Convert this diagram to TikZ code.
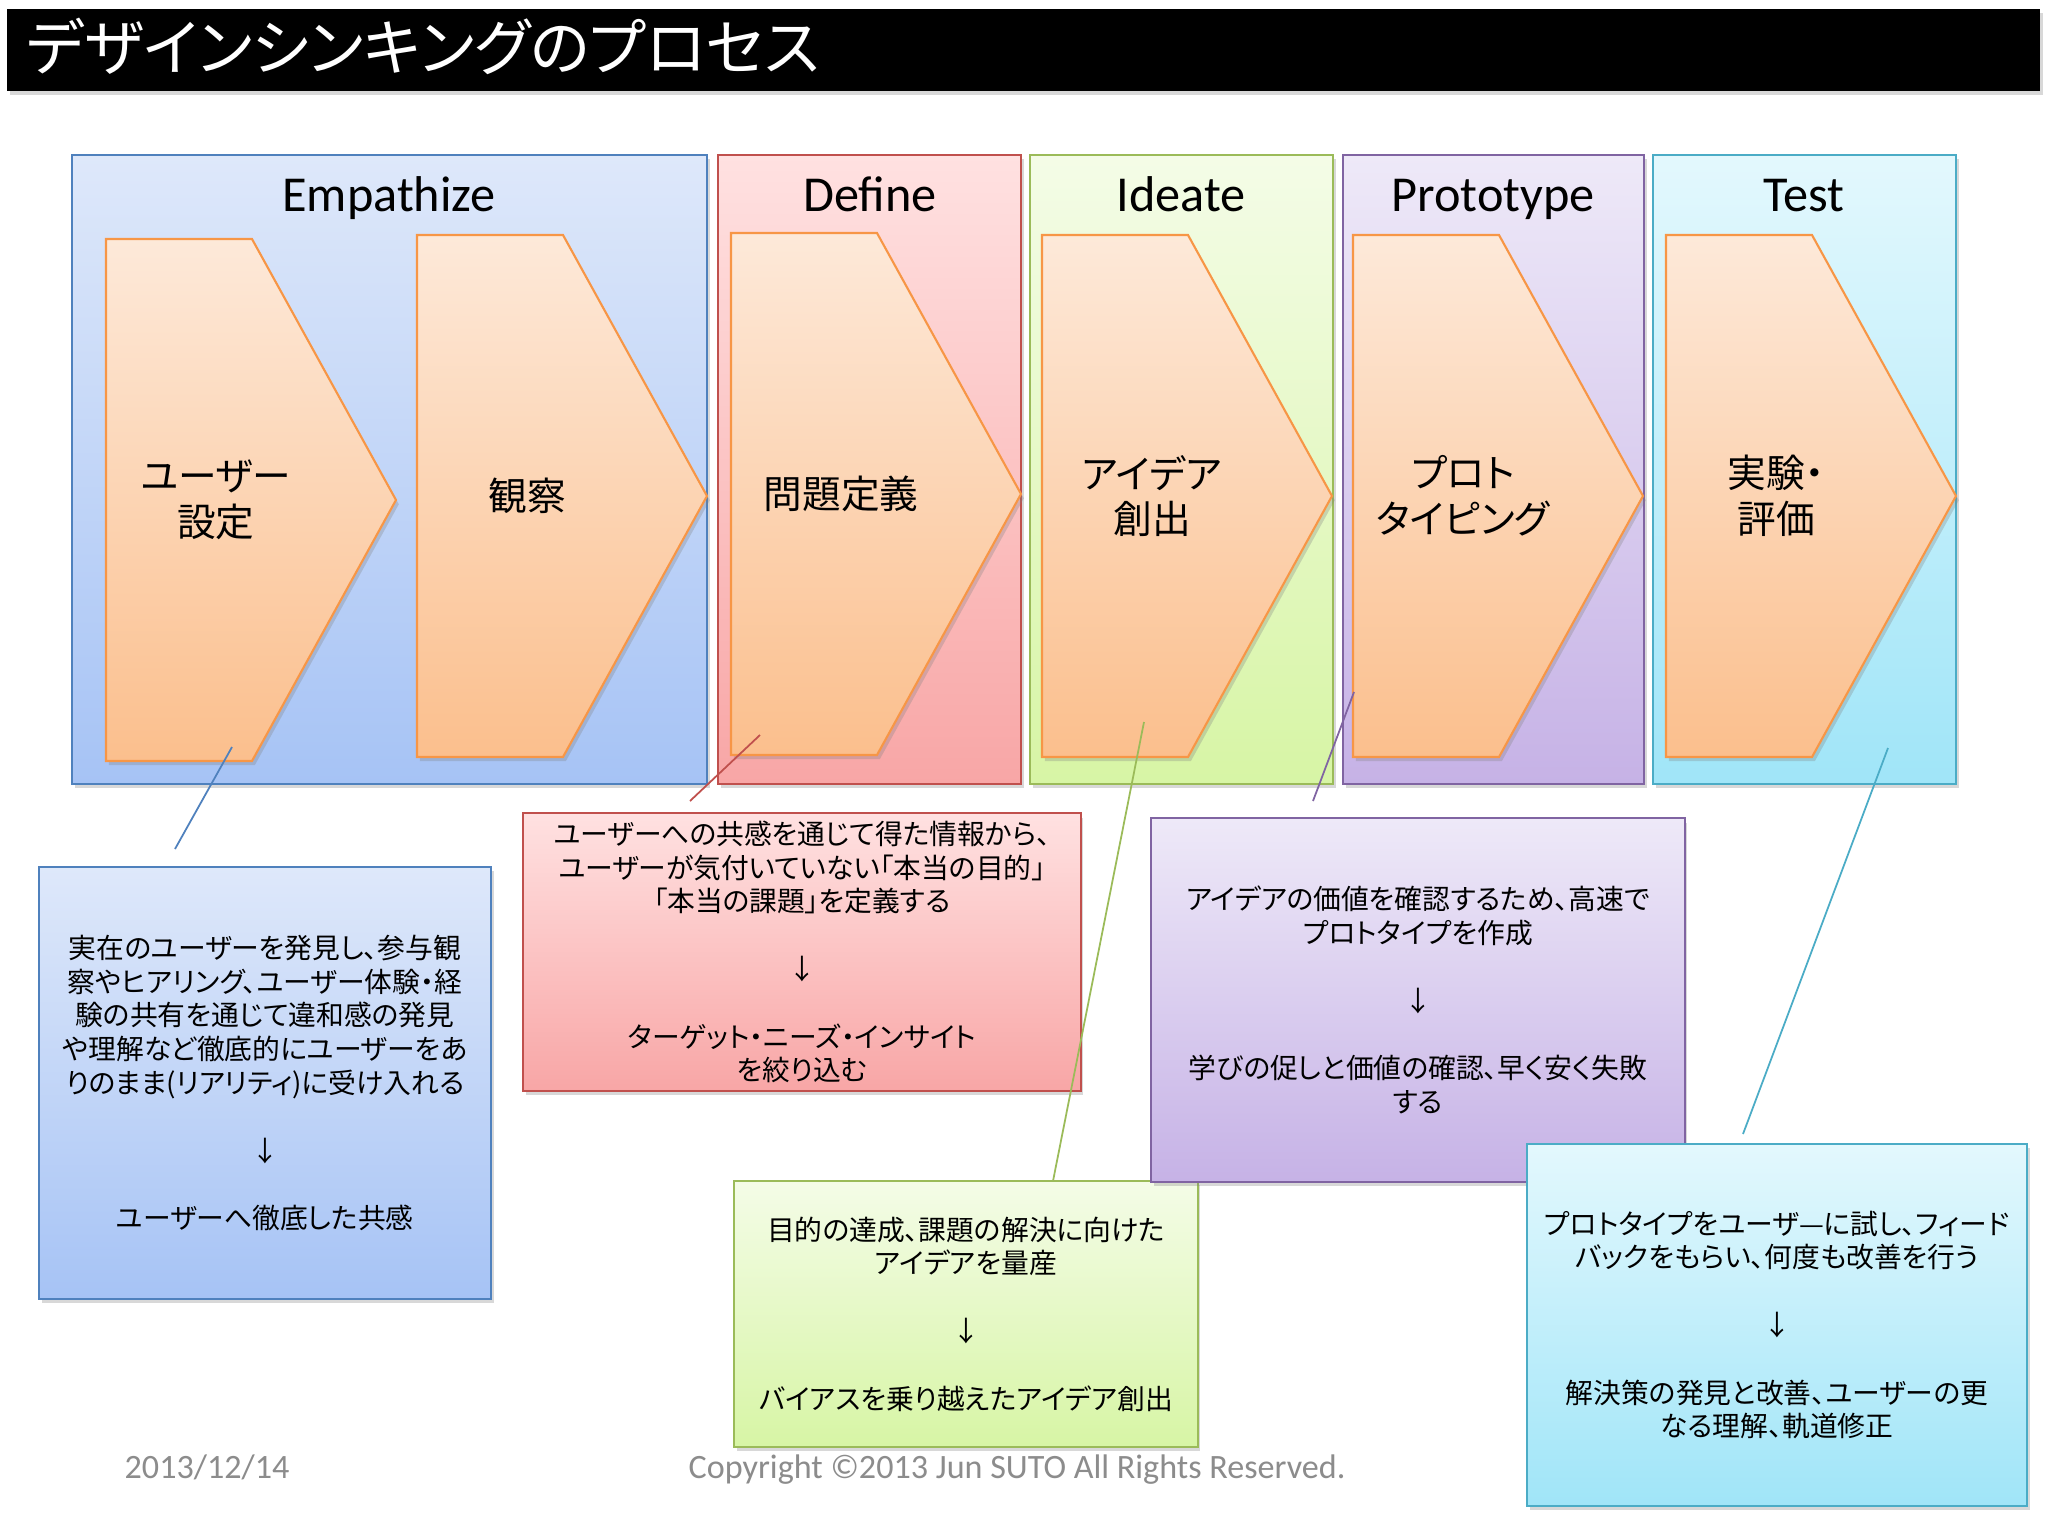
\documentclass[tikz,border=0pt]{standalone}
\usepackage{fontspec}
\setmainfont{Carlito}
\newfontfamily\jp[RawFeature=+palt]{Noto Sans CJK JP}
\usetikzlibrary{shadows}

\definecolor{empTop}{HTML}{DEE8FA}
\definecolor{empBot}{HTML}{A6C3F5}
\definecolor{empLine}{HTML}{4F81BD}
\definecolor{defTop}{HTML}{FFE1E1}
\definecolor{defBot}{HTML}{F8A6A6}
\definecolor{defLine}{HTML}{C0504D}
\definecolor{ideTop}{HTML}{F4FCE7}
\definecolor{ideBot}{HTML}{D7F5A5}
\definecolor{ideLine}{HTML}{9BBB59}
\definecolor{proTop}{HTML}{EEE9F8}
\definecolor{proBot}{HTML}{C6B2E6}
\definecolor{proLine}{HTML}{8064A2}
\definecolor{tstTop}{HTML}{E3F8FD}
\definecolor{tstBot}{HTML}{A0E5F8}
\definecolor{tstLine}{HTML}{4BACC6}
\definecolor{chevTop}{HTML}{FDE9D9}
\definecolor{chevBot}{HTML}{FBBF8D}
\definecolor{chevLine}{HTML}{F79646}
\definecolor{footGray}{HTML}{8C8C8C}

\begin{document}
\begin{tikzpicture}[x=0.01cm, y=-0.01cm,
    lowshadow/.style={drop shadow={shadow xshift=0.8pt, shadow yshift=-1.2pt, opacity=0.3}},
    phase/.style={draw=#1Line, top color=#1Top, bottom color=#1Bot, line width=0.6pt, lowshadow},
    head/.style={anchor=base, font=\fontsize{14.3}{17}\selectfont},
    chev/.style={draw=chevLine, top color=chevTop, bottom color=chevBot, line width=0.6pt, lowshadow},
    clabel/.style={align=center, font=\jp\fontsize{11}{13}\selectfont},
    note/.style={phase=#1, align=center, inner sep=0pt, font=\jp\fontsize{7.9}{9.6}\selectfont},
    link/.style={draw=#1Line, line width=0.5pt},
    foot/.style={anchor=base west, inner sep=0pt, text=footGray, font=\fontsize{9.7}{12}\selectfont}]
    \useasboundingbox (0,0) rectangle (2048,1536);
    \fill[white] (0,0) rectangle (2048,1536);

    % title bar
    \fill[black, lowshadow] (7,9) rectangle (2040,91);
    \node[anchor=west, inner sep=0pt, text=white, font=\jp\fontsize{17.5}{20}\selectfont] (title) at (26,46) {デザインシンキングのプロセス};

    % phases
    \draw[phase=emp] (72,155) rectangle (707,784);
    \draw[phase=def] (718,155) rectangle (1021,784);
    \draw[phase=ide] (1030,155) rectangle (1333,784);
    \draw[phase=pro] (1343,155) rectangle (1644,784);
    \draw[phase=tst] (1653,155) rectangle (1956,784);
    \foreach \cx/\hd in {389/Empathize, 870/Define, 1181/Ideate, 1493/Prototype, 1804/Test}
        \node[head] (h\hd) at (\cx,211) {\hd};

    % chevrons
    \foreach \lx/\ty/\nm/\txt in {106/239/user/{ユーザー\\設定}, 417/235/obs/観察, 731/233/prob/問題定義,
        1042/235/idea/{アイデア\\創出}, 1353/235/proto/{プロト\\タイピング}, 1666/235/test/{実験・\\評価}} {
        \draw[chev] (\lx,\ty) -- (\lx+146,\ty) -- (\lx+290,\ty+261) -- (\lx+146,\ty+522) -- (\lx,\ty+522) -- cycle;
        \node[clabel] (\nm) at (\lx+110,\ty+261) {\txt};
    }

    % notes
    \node[note=emp, minimum width=4.52cm, minimum height=4.32cm] (empNote) at (265,1083)
        {実在のユーザーを発見し、参与観\\察やヒアリング、ユーザー体験・経\\験の共有を通じて違和感の発見\\や理解など徹底的にユーザーをあ\\りのまま(リアリティ)に受け入れる\\[9.6pt]↓\\[9.6pt]ユーザーへ徹底した共感};
    \node[note=def, minimum width=5.57cm, minimum height=2.77cm] (defNote) at (802,952)
        {ユーザーへの共感を通じて得た情報から、\\ユーザーが気付いていない「本当の目的」\\「本当の課題」を定義する\\[9.6pt]↓\\[9.6pt]ターゲット・ニーズ・インサイト\\を絞り込む};
    \node[note=ide, minimum width=4.63cm, minimum height=2.66cm] (ideNote) at (966,1314)
        {目的の達成、課題の解決に向けた\\アイデアを量産\\[9.6pt]↓\\[9.6pt]バイアスを乗り越えたアイデア創出};
    \node[note=pro, minimum width=5.33cm, minimum height=3.63cm] (proNote) at (1418,1000)
        {アイデアの価値を確認するため、高速で\\プロトタイプを作成\\[9.6pt]↓\\[9.6pt]学びの促しと価値の確認、早く安く失敗\\する};
    \node[note=tst, minimum width=5.00cm, minimum height=3.62cm] (tstNote) at (1777,1325)
        {プロトタイプをユーザ—に試し、フィード\\バックをもらい、何度も改善を行う\\[9.6pt]↓\\[9.6pt]解決策の発見と改善、ユーザーの更\\なる理解、軌道修正};

    % callout lines
    \coordinate (empFrom) at (232,747);  \coordinate (empTo) at (175,849);
    \coordinate (defFrom) at (760,735);  \coordinate (defTo) at (690,801);
    \coordinate (ideFrom) at (1144,722); \coordinate (ideTo) at (1053,1181);
    \coordinate (proFrom) at (1354,692); \coordinate (proTo) at (1313,801);
    \coordinate (tstFrom) at (1888,748); \coordinate (tstTo) at (1743,1134);
    \foreach \ph in {emp, def, ide, pro, tst}
        \draw[link=\ph] (\ph From) -- (\ph To);

    % footer
    \node[foot] (date) at (124,1478) {2013/12/14};
    \node[foot] (copy) at (688,1478) {Copyright ©2013 Jun SUTO All Rights Reserved.};
\end{tikzpicture}
\end{document}
